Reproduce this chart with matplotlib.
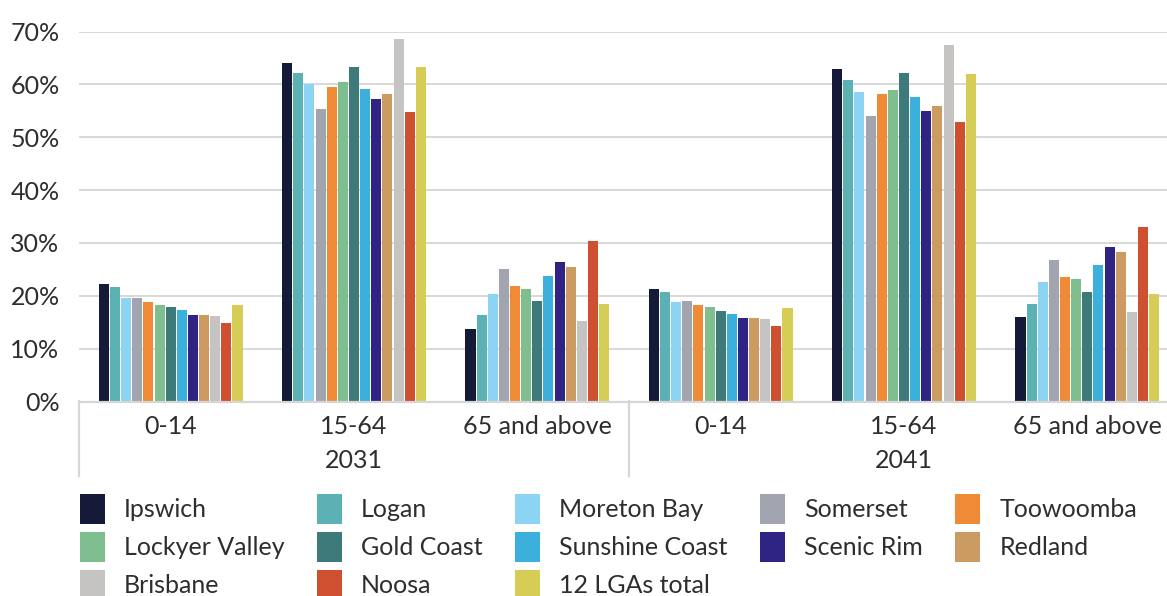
import numpy as np
import matplotlib
matplotlib.use("Agg")
import matplotlib.pyplot as plt
from matplotlib.transforms import blended_transform_factory

plt.rcParams['font.family'] = ['Lato', 'DejaVu Sans']

# population share by age band, per LGA
lgas = ["Ipswich", "Logan", "Moreton Bay", "Somerset", "Toowoomba",
        "Lockyer Valley", "Gold Coast", "Sunshine Coast", "Scenic Rim", "Redland",
        "Brisbane", "Noosa", "12 LGAs total"]
colors = ["#141a38", "#5cb1b4", "#8dd3f3", "#a2a4b0", "#ef8b36",
          "#7fbf8f", "#3f7a7a", "#3bb0dc", "#2f2483", "#cc9b61",
          "#c5c4c2", "#cf4f31", "#d6cd57"]

age_bands = ["0-14", "15-64", "65 and above"]
years = ["2031", "2041"]

share_2031_0_14 = [22.2, 21.6, 19.6, 19.6, 18.8, 18.2, 17.9, 17.3, 16.4, 16.4, 16.2, 14.8, 18.2]
share_2031_15_64 = [64.1, 62.2, 60.1, 55.4, 59.5, 60.5, 63.3, 59.1, 57.3, 58.2, 68.6, 54.8, 63.3]
share_2031_65 = [13.7, 16.4, 20.4, 25.1, 21.9, 21.3, 19.0, 23.8, 26.4, 25.5, 15.2, 30.4, 18.5]
share_2041_0_14 = [21.3, 20.7, 18.8, 19.0, 18.3, 17.9, 17.2, 16.6, 15.8, 15.8, 15.6, 14.3, 17.7]
share_2041_15_64 = [62.9, 60.9, 58.6, 54.1, 58.2, 58.9, 62.2, 57.6, 55.0, 55.9, 67.5, 52.9, 61.9]
share_2041_65 = [16.0, 18.5, 22.6, 26.8, 23.6, 23.2, 20.7, 25.9, 29.3, 28.3, 17.0, 33.0, 20.3]

groups = [share_2031_0_14, share_2031_15_64, share_2031_65,
          share_2041_0_14, share_2041_15_64, share_2041_65]
data = np.array(groups).T / 100.0  # rows = LGA, cols = group

text_col = "#2e2e2e"
grid_col = "#d6d6d6"
fs = 18

fig = plt.figure(figsize=(11.67, 5.96), dpi=100)
ax = fig.add_axes([79 / 1167, 194.5 / 596, 1100 / 1167, 370 / 596])

n = len(lgas)
x = np.arange(len(groups))
slot = 0.79 / n
for i in range(n):
    offs = (i - (n - 1) / 2) * slot
    ax.bar(x + offs, data[i], width=slot * 0.9, color=colors[i],
           label=lgas[i], zorder=3)

ax.set_xlim(-0.5, len(groups) - 0.5)
ax.set_ylim(0, 0.70)
ax.set_yticks(np.arange(0, 0.71, 0.1))
ax.set_yticklabels([f"{int(round(v * 100))}%" for v in np.arange(0, 0.71, 0.1)])
ax.tick_params(axis='y', length=0, pad=14, labelsize=fs, labelcolor=text_col)
ax.tick_params(axis='x', length=0)
ax.set_xticks([])
ax.grid(axis='y', color=grid_col, linewidth=1.3, zorder=0)
for s in ax.spines.values():
    s.set_visible(False)
ax.axhline(0, color=grid_col, linewidth=1.6, zorder=4, clip_on=False)

# two-level category axis
trans = blended_transform_factory(ax.transData, fig.transFigure)
for j in range(len(groups)):
    ax.text(j, 1 - 426 / 596, age_bands[j % 3], transform=trans,
            ha='center', va='center', fontsize=fs, color=text_col)
for k, yr in enumerate(years):
    ax.text(3 * k + 1, 1 - 461 / 596, yr, transform=trans,
            ha='center', va='center', fontsize=fs, color=text_col)
for xs in [-0.5, 2.5, 5.5]:
    ax.plot([xs, xs], [1 - 401 / 596, 1 - 476 / 596], transform=trans,
            color=grid_col, linewidth=1.6, clip_on=False)

# legend filled row by row across 5 columns
handles, labels = ax.get_legend_handles_labels()
ncol = 5
order = [r * ncol + c for c in range(ncol) for r in range(3) if r * ncol + c < n]
fig.legend([handles[i] for i in order], [labels[i] for i in order],
           loc='upper left', bbox_to_anchor=(80 / 1167, 1 - 494 / 596),
           ncol=ncol, frameon=False, fontsize=fs, labelcolor=text_col,
           handlelength=1.0, handleheight=1.47, handletextpad=0.76,
           columnspacing=1.3, labelspacing=0.32, borderpad=0, borderaxespad=0)

fig.savefig("out.png", dpi=100)
